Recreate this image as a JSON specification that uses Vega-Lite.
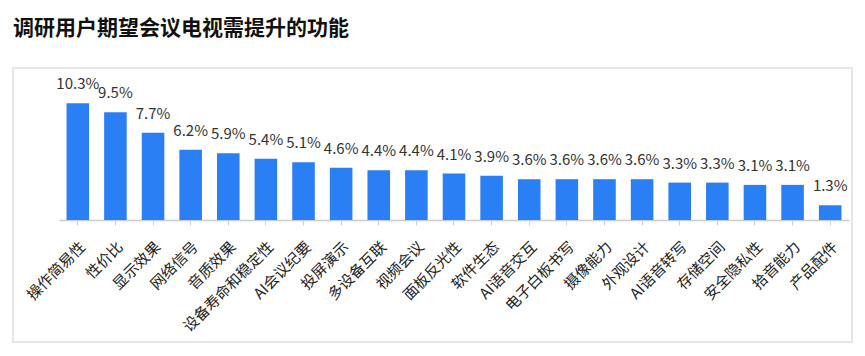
{
  "$schema": "https://vega.github.io/schema/vega-lite/v6.json",
  "width": 839,
  "height": 274,
  "autosize": "none",
  "padding": {"left": 13, "top": 68, "right": 13, "bottom": 14},
  "background": "white",
  "title": {
    "text": "调研用户期望会议电视需提升的功能",
    "anchor": "start",
    "frame": "group",
    "fontSize": 21,
    "fontWeight": "bold",
    "font": "Noto Sans CJK SC",
    "color": "#111111",
    "offset": 29,
    "dx": 0
  },
  "config": {
    "view": {"stroke": "#e6e6e6", "strokeWidth": 2},
    "font": "Noto Sans CJK SC"
  },
  "data": {
    "values": [
      {"功能": "操作简易性", "占比": 0.103},
      {"功能": "性价比", "占比": 0.095},
      {"功能": "显示效果", "占比": 0.077},
      {"功能": "网络信号", "占比": 0.062},
      {"功能": "音质效果", "占比": 0.059},
      {"功能": "设备寿命和稳定性", "占比": 0.054},
      {"功能": "AI会议纪要", "占比": 0.051},
      {"功能": "投屏演示", "占比": 0.046},
      {"功能": "多设备互联", "占比": 0.044},
      {"功能": "视频会议", "占比": 0.044},
      {"功能": "面板反光性", "占比": 0.041},
      {"功能": "软件生态", "占比": 0.039},
      {"功能": "AI语音交互", "占比": 0.036},
      {"功能": "电子白板书写", "占比": 0.036},
      {"功能": "摄像能力", "占比": 0.036},
      {"功能": "外观设计", "占比": 0.036},
      {"功能": "AI语音转写", "占比": 0.033},
      {"功能": "存储空间", "占比": 0.033},
      {"功能": "安全隐私性", "占比": 0.031},
      {"功能": "拾音能力", "占比": 0.031},
      {"功能": "产品配件", "占比": 0.013}
    ]
  },
  "encoding": {
    "x": {
      "field": "功能",
      "type": "nominal",
      "sort": null,
      "scale": {"range": [46, 836], "paddingInner": 0.4, "paddingOuter": 0.2},
      "axis": {
        "title": null,
        "offset": -122,
        "labelAngle": -45,
        "labelFontSize": 15,
        "labelColor": "#222222",
        "labelPadding": 14,
        "tickSize": 5,
        "tickColor": "#cccccc",
        "domainColor": "#cccccc",
        "domainWidth": 1.5,
        "labelOverlap": false
      }
    },
    "y": {
      "field": "占比",
      "type": "quantitative",
      "scale": {"domain": [0, 0.12], "range": [152, 16]},
      "axis": null
    }
  },
  "layer": [
    {"mark": {"type": "bar", "color": "#2a7ff5"}},
    {
      "mark": {"type": "text", "dy": -19, "fontSize": 15, "color": "#333333"},
      "encoding": {"text": {"field": "占比", "type": "quantitative", "format": ".1%"}}
    }
  ]
}
